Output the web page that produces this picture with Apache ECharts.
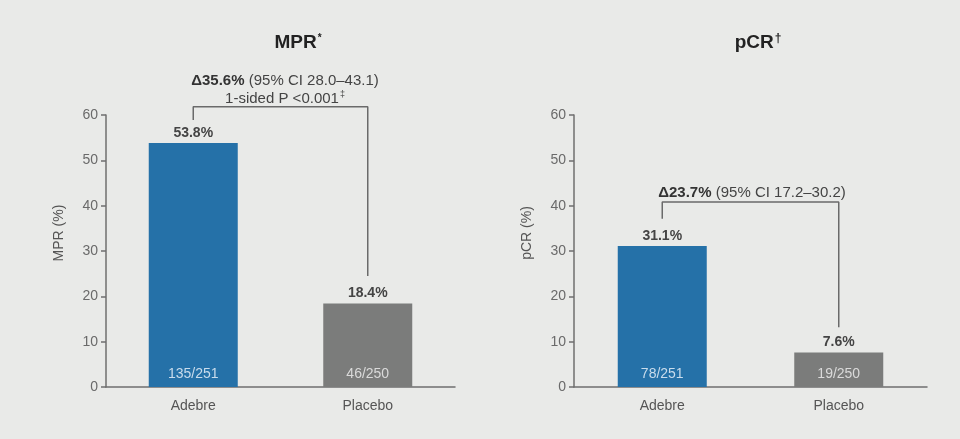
<!DOCTYPE html>
<html>
<head>
<meta charset="utf-8">
<script src="https://cdn.jsdelivr.net/npm/echarts@6/dist/echarts.min.js"></script>
<style>
html,body{margin:0;padding:0;background:#e9eae8;}
#c{width:960px;height:439px;}
</style>
</head>
<body>
<div id="c"></div>
<script>
// ---- data ----
var categories = ['Adebre', 'Placebo'];
var mprValues = [53.8, 18.4];
var mprCounts = ['135/251', '46/250'];
var pcrValues = [31.1, 7.6];
var pcrCounts = ['78/251', '19/250'];
var yTicks = [0, 10, 20, 30, 40, 50, 60];
// bracket levels (value units): [left leg end, top, right leg end]
var mprBracket = [58.9, 61.8, 24.5];
var pcrBracket = [37.1, 40.8, 13.2];

var FONT = 'Liberation Sans, Arial, sans-serif';
var BLUE = '#2571a8';
var GRAY = '#7b7c7b';
var AXIS = '#6f6f6f';

var chart = echarts.init(document.getElementById('c'));

function yAxisDef(idx, name) {
  return {
    type: 'value', gridIndex: idx, min: yTicks[0], max: yTicks[yTicks.length - 1], interval: 10,
    name: name, nameLocation: 'middle', nameGap: 40, nameRotate: 90,
    nameTextStyle: { fontFamily: FONT, fontSize: 14, color: '#555', padding: [0, 0, 0, 36] },
    axisLine: { show: true, lineStyle: { color: AXIS, width: 1.5 } },
    axisTick: { show: true, length: 5, lineStyle: { color: AXIS, width: 1.5 } },
    axisLabel: { fontFamily: FONT, fontSize: 14, color: '#6a6a6a', margin: 8 },
    splitLine: { show: false }
  };
}
function xAxisDef(idx) {
  return {
    type: 'category', gridIndex: idx, data: categories,
    axisLine: { show: true, lineStyle: { color: AXIS, width: 1.5 } },
    axisTick: { show: false },
    axisLabel: { fontFamily: FONT, fontSize: 14, color: '#555', margin: 12 }
  };
}
function barData(vals) {
  return vals.map(function (v, i) { return { value: v, itemStyle: { color: i === 0 ? BLUE : GRAY } }; });
}
function countData(vals, counts) {
  return vals.map(function (v, i) {
    return { value: v, label: { formatter: counts[i], color: i === 0 ? '#c9dcec' : '#dadada' } };
  });
}
function bracket(b) {
  return [[0, b[0]], [0, b[1]], [1, b[1]], [1, b[2]]];
}
function seriesFor(idx, vals, counts, br) {
  return [
    {
      type: 'bar', xAxisIndex: idx, yAxisIndex: idx, data: barData(vals), barWidth: 89,
      label: { show: true, position: 'top', distance: 3, fontFamily: FONT, fontSize: 14, fontWeight: 'bold', color: '#444',
        formatter: function (p) { return p.value.toFixed(1) + '%'; } },
      silent: true
    },
    {
      type: 'bar', xAxisIndex: idx, yAxisIndex: idx, data: countData(vals, counts), barWidth: 89, barGap: '-100%',
      itemStyle: { color: 'rgba(0,0,0,0)' },
      label: { show: true, position: 'insideBottom', distance: 6, fontFamily: FONT, fontSize: 14 },
      silent: true
    },
    {
      type: 'line', xAxisIndex: idx, yAxisIndex: idx, data: bracket(br), symbol: 'none', clip: false,
      lineStyle: { color: '#6a6a6a', width: 1.5 }, silent: true
    }
  ];
}

var option = {
  backgroundColor: '#e9eae8',
  animation: false,
  title: [
    { text: '{b|MPR}{s|*}', left: 293, top: 28, textAlign: 'center',
      textStyle: { rich: { b: { fontFamily: FONT, fontSize: 19, fontWeight: 'bold', color: '#222' },
        s: { fontFamily: FONT, fontSize: 10, fontWeight: 'bold', color: '#222', verticalAlign: 'top', padding: [0, 0, 8, 1] } } } },
    { text: '{b|pCR}{s|†}', left: 753, top: 28, textAlign: 'center',
      textStyle: { rich: { b: { fontFamily: FONT, fontSize: 19, fontWeight: 'bold', color: '#222' },
        s: { fontFamily: FONT, fontSize: 12, fontWeight: 'bold', color: '#222', verticalAlign: 'top', padding: [0, 0, 6, 1] } } } },
    { text: '{b|Δ35.6%}{n| (95% CI 28.0–43.1)}\n{n|1-sided P <0.001}{s|‡}', left: 280, top: 67, textAlign: 'center',
      textStyle: { fontWeight: 'normal', lineHeight: 18, rich: {
        b: { fontFamily: FONT, fontSize: 15, fontWeight: 'bold', color: '#333', lineHeight: 18 },
        n: { fontFamily: FONT, fontSize: 15, fontWeight: 'normal', color: '#444', lineHeight: 18 },
        s: { fontFamily: FONT, fontSize: 9, fontWeight: 'normal', color: '#444', verticalAlign: 'top', lineHeight: 18, padding: [0, 0, 4, 1] } } } },
    { text: '{b|Δ23.7%}{n| (95% CI 17.2–30.2)}', left: 747, top: 180, textAlign: 'center',
      textStyle: { fontWeight: 'normal', rich: {
        b: { fontFamily: FONT, fontSize: 15, fontWeight: 'bold', color: '#333' },
        n: { fontFamily: FONT, fontSize: 15, fontWeight: 'normal', color: '#444' } } } }
  ],
  grid: [
    { left: 106, right: 960 - 455, top: 115, bottom: 52 },
    { left: 574, right: 960 - 927, top: 115, bottom: 52 }
  ],
  xAxis: [xAxisDef(0), xAxisDef(1)],
  yAxis: [yAxisDef(0, 'MPR (%)'), yAxisDef(1, 'pCR (%)')],
  series: [].concat(seriesFor(0, mprValues, mprCounts, mprBracket), seriesFor(1, pcrValues, pcrCounts, pcrBracket))
};
chart.setOption(option);
</script>
</body>
</html>
